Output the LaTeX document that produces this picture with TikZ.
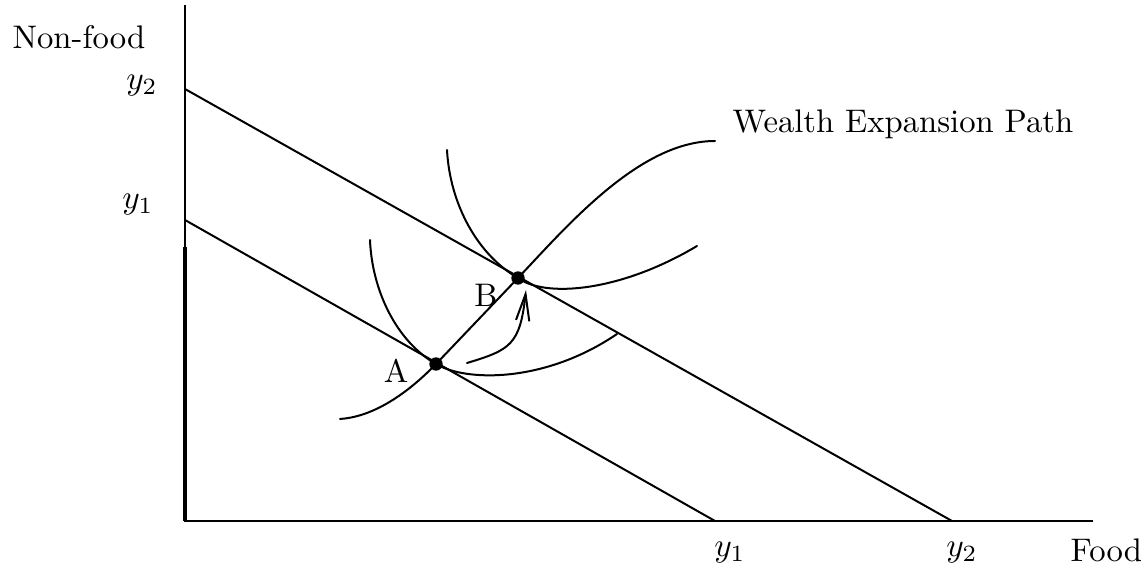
\documentclass[tikz,border=0pt]{standalone}
\usetikzlibrary{arrows.meta}
\begin{document}
\begin{tikzpicture}[x=0.3pt,y=-0.3pt,
  curve/.style={line width=0.6pt, line cap=round},
  axis/.style={line width=0.75pt},
  lbl/.style={inner sep=0pt, font=\fontsize{9.8}{12}\selectfont},
  pt/.style={circle, fill=black, inner sep=0pt, minimum size=4pt}]
\useasboundingbox (0,0) rectangle (1148,571);
% coordinates
\coordinate (O) at (185,521);
\coordinate (Ytop) at (185,5);
\coordinate (Ymid) at (185,247);
\coordinate (Xend) at (1093,521);
\coordinate (L2a) at (185,89);
\coordinate (L2b) at (952,521);
\coordinate (L1a) at (185,220);
\coordinate (L1b) at (715,521);
\coordinate (Ps) at (340,419);
\coordinate (Pe) at (715,141);
\coordinate (I1s) at (370,240);
\coordinate (I1e) at (617,334);
\coordinate (I2s) at (447,150);
\coordinate (I2e) at (697,246);
\coordinate (Ars) at (467,363);
\coordinate (Are) at (526,290);
% axes
\draw[axis] (Ytop) -- (O) -- (Xend);
\draw[line width=0.95pt] (Ymid) -- (O);
% budget lines
\draw[curve] (L2a) -- (L2b);
\draw[curve] (L1a) -- (L1b);
% points
\node[pt] (A) at (436,364) {};
\node[pt] (B) at (518,278) {};
% wealth expansion path
\draw[curve] (Ps) .. controls (370,417) and (403,398) .. (A.center) -- (B.center)
  .. controls (568,225) and (640,141) .. (Pe);
% indifference curve through A
\draw[curve] (I1s) .. controls (372,290) and (396,341) .. (A.center)
  .. controls (466,382) and (545,383) .. (I1e);
% indifference curve through B
\draw[curve] (I2s) .. controls (450,205) and (478,255) .. (B.center)
  .. controls (545,298) and (620,292) .. (I2e);
% arrow
\draw[curve, -{Straight Barb[length=8pt,width=4pt]}] (Ars) .. controls (510,350) and (520,345) .. (Are);
% labels
\node[lbl, anchor=base west] (nf) at (12,49) {Non-food};
\node[lbl] (y2l) at (142,86) {$y_2$};
\node[lbl] (y1l) at (138,205) {$y_1$};
\node[lbl] (y1b) at (730,553) {$y_1$};
\node[lbl] (y2b) at (962,553) {$y_2$};
\node[lbl, anchor=base west] (food) at (1070,562) {Food};
\node[lbl, anchor=base west] (wep) at (732,133) {Wealth Expansion Path};
\node[lbl] (Al) at (396,371) {A};
\node[lbl] (Bl) at (486,295) {B};
\end{tikzpicture}
\end{document}
